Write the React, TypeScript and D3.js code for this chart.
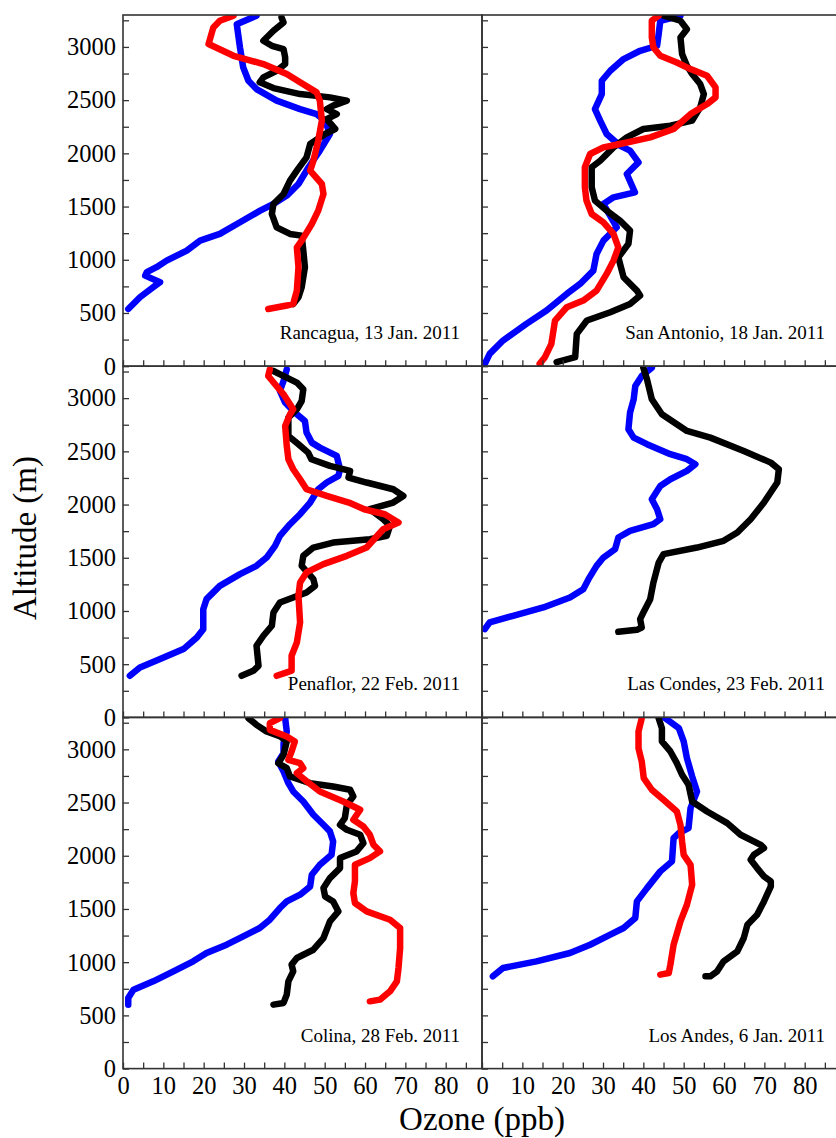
import { useEffect, useRef } from "react";
import * as d3 from "d3";

// [ozone (ppb), altitude (m)]
type Pt = [number, number];

const rancaguaBlue: Pt[] = [
  [33.1, 3293], [28.2, 3214], [29.0, 2995], [29.8, 2808], [31.1, 2682], [33.1, 2604], [38.1, 2495],
  [43.9, 2416], [48.0, 2369], [50.1, 2307], [51.3, 2182], [48.8, 2025], [46.0, 1869], [43.5, 1712],
  [40.6, 1603], [37.3, 1524], [34.0, 1462], [29.0, 1352], [24.0, 1243], [19.1, 1180], [15.8, 1086],
  [10.8, 992], [8.3, 930], [5.9, 883], [5.5, 851], [9.2, 789], [7.5, 742], [4.2, 648], [1.3, 538],
];
const rancaguaBlack: Pt[] = [
  [39.3, 3277], [39.8, 3230], [37.3, 3152], [34.8, 3058], [36.9, 3011], [39.8, 2980], [40.2, 2901],
  [40.2, 2839], [38.1, 2776], [34.8, 2714], [33.9, 2667], [37.3, 2613], [43.9, 2557], [51.3, 2526],
  [55.5, 2495], [52.1, 2448], [50.5, 2416], [53.0, 2369], [50.5, 2322], [52.6, 2229], [50.1, 2182],
  [46.4, 2088], [45.5, 1962], [43.1, 1837], [41.4, 1743], [39.8, 1618], [37.3, 1524], [36.9, 1430],
  [38.1, 1305], [41.4, 1243], [44.3, 1227], [44.7, 1086], [45.1, 930], [44.3, 742], [43.5, 648],
  [42.2, 585],
];
const rancaguaRed: Pt[] = [
  [27.4, 3293], [24.0, 3246], [22.4, 3183], [21.2, 3027], [27.4, 2917], [34.8, 2839], [40.6, 2745],
  [43.9, 2667], [48.0, 2573], [48.8, 2495], [49.3, 2307], [48.4, 2119], [47.2, 1931], [46.4, 1837],
  [49.3, 1712], [49.7, 1618], [48.4, 1462], [46.8, 1336], [44.3, 1180], [43.1, 1117], [43.5, 930],
  [43.1, 710], [42.2, 585], [40.6, 570], [36.0, 538],
];

const sanAntonioBlue: Pt[] = [
  [49.2, 3293], [44.2, 3246], [43.8, 3121], [43.4, 3011], [39.2, 2964], [35.1, 2886], [31.8, 2776],
  [29.7, 2682], [29.7, 2557], [28.0, 2416], [29.3, 2307], [30.9, 2182], [34.2, 2072], [36.7, 2025],
  [38.8, 1915], [35.9, 1806], [37.9, 1634], [32.6, 1587], [30.1, 1524], [33.4, 1305], [30.1, 1180],
  [28.4, 1055], [27.6, 898], [24.3, 773], [21.0, 679], [16.0, 523], [11.0, 398], [5.2, 241],
  [1.9, 116], [0.7, 22],
];
const sanAntonioBlack: Pt[] = [
  [45.0, 3293], [49.2, 3246], [50.8, 3167], [49.2, 3089], [49.6, 2933], [50.8, 2823], [52.1, 2745],
  [54.1, 2651], [55.0, 2557], [54.1, 2432], [52.1, 2307], [46.7, 2260], [40.0, 2229], [35.9, 2150],
  [32.6, 2056], [29.3, 1931], [27.2, 1869], [27.2, 1681], [28.0, 1556], [30.9, 1462], [34.2, 1368],
  [36.7, 1274], [36.3, 1149], [33.8, 1023], [35.1, 836], [38.4, 710], [39.2, 664], [36.7, 585],
  [31.8, 507], [26.0, 429], [23.5, 304], [23.1, 85], [18.5, 38],
];
const sanAntonioRed: Pt[] = [
  [43.8, 3293], [42.1, 3246], [42.1, 3089], [42.5, 2995], [44.2, 2917], [48.3, 2854], [51.7, 2792],
  [55.8, 2729], [57.9, 2620], [57.9, 2526], [55.8, 2463], [51.7, 2369], [47.5, 2229], [41.7, 2150],
  [34.2, 2088], [30.1, 2056], [26.8, 1994], [25.5, 1869], [25.5, 1681], [25.9, 1556], [27.2, 1430],
  [30.1, 1352], [32.6, 1243], [33.8, 1117], [32.6, 992], [30.9, 867], [28.4, 710], [25.1, 617],
  [21.0, 554], [18.1, 429], [17.2, 210], [15.6, 85], [14.3, 22],
];

const penaflorBlue: Pt[] = [
  [40.6, 3271], [39.8, 3161], [38.9, 3067], [40.2, 2958], [42.6, 2864], [45.1, 2786], [45.5, 2676],
  [46.8, 2582], [48.8, 2535], [53.0, 2457], [53.8, 2332], [53.4, 2269], [50.5, 2207], [48.4, 2144],
  [46.4, 2019], [43.9, 1909], [41.4, 1815], [38.9, 1706], [37.7, 1612], [35.6, 1502], [33.1, 1424],
  [29.0, 1346], [24.0, 1236], [20.7, 1111], [19.9, 1017], [19.9, 829], [18.3, 751], [15.0, 642],
  [9.2, 548], [4.2, 469], [1.7, 391],
];
const penaflorBlack: Pt[] = [
  [37.3, 3255], [40.6, 3192], [43.1, 3146], [44.7, 3083], [44.3, 2973], [43.1, 2895], [41.0, 2817],
  [41.0, 2645], [43.5, 2567], [45.9, 2488], [46.7, 2426], [51.3, 2363], [56.3, 2316], [55.9, 2254],
  [60.4, 2207], [67.0, 2144], [69.5, 2081], [67.0, 2019], [61.2, 1956], [64.5, 1862], [66.2, 1800],
  [65.4, 1706], [61.2, 1674], [52.1, 1643], [47.2, 1596], [44.7, 1518], [44.3, 1424], [47.2, 1299],
  [47.6, 1236], [45.5, 1174], [42.2, 1127], [38.9, 1080], [37.3, 986], [36.9, 861], [34.8, 767],
  [33.1, 673], [33.6, 485], [32.3, 438], [29.4, 391],
];
const penaflorRed: Pt[] = [
  [36.4, 3271], [36.0, 3208], [37.7, 3130], [39.8, 3036], [42.2, 2895], [41.4, 2848], [40.2, 2739],
  [40.6, 2551], [41.0, 2426], [42.2, 2332], [43.9, 2238], [45.5, 2144], [50.5, 2081], [56.0, 2019],
  [59.8, 1956], [64.9, 1909], [68.3, 1831], [64.5, 1768], [60.4, 1596], [55.5, 1518], [49.7, 1440],
  [45.5, 1362], [43.9, 1268], [43.5, 1142], [43.9, 892], [43.1, 704], [41.8, 579], [41.8, 438],
  [40.6, 423], [38.1, 391],
];

const lasCondesBlue: Pt[] = [
  [42.1, 3286], [39.6, 3208], [38.0, 3114], [37.6, 2989], [36.7, 2864], [36.3, 2707], [37.6, 2629],
  [40.9, 2567], [46.7, 2473], [50.8, 2426], [52.9, 2379], [50.8, 2316], [46.7, 2238], [44.2, 2175],
  [42.1, 2050], [43.4, 1956], [44.2, 1862], [42.5, 1815], [36.7, 1753], [33.8, 1690], [33.0, 1581],
  [30.1, 1502], [28.4, 1424], [26.4, 1299], [25.1, 1205], [21.8, 1127], [15.2, 1033], [7.7, 955],
  [1.9, 892], [0.7, 829],
];
const lasCondesBlack: Pt[] = [
  [40.0, 3286], [40.9, 3177], [42.1, 2989], [44.6, 2848], [48.3, 2754], [50.8, 2692], [56.6, 2629],
  [64.9, 2504], [71.6, 2394], [73.6, 2332], [73.2, 2207], [69.9, 2019], [66.6, 1862], [63.3, 1737],
  [59.9, 1659], [53.3, 1596], [45.0, 1534], [43.8, 1455], [42.5, 1268], [41.7, 1111], [40.0, 986],
  [39.2, 923], [39.6, 845], [38.4, 823], [33.8, 804],
];

const colinaBlue: Pt[] = [
  [40.2, 3293], [40.6, 3167], [39.8, 3058], [39.8, 2964], [38.5, 2886], [39.8, 2792], [41.0, 2682],
  [42.2, 2604], [44.7, 2510], [47.2, 2385], [49.7, 2291], [51.3, 2229], [52.1, 2135], [51.7, 2009],
  [48.8, 1915], [46.8, 1822], [46.4, 1712], [43.9, 1634], [40.6, 1571], [38.9, 1509], [36.4, 1399],
  [33.9, 1321], [29.8, 1243], [25.7, 1164], [20.7, 1086], [17.4, 1008], [12.5, 914], [7.5, 820],
  [2.6, 742], [1.3, 664], [1.3, 601],
];
const colinaBlack: Pt[] = [
  [31.1, 3293], [33.1, 3230], [35.6, 3167], [39.0, 3121], [40.6, 3074], [39.8, 2948], [38.5, 2870],
  [40.6, 2823], [41.4, 2745], [46.4, 2682], [52.1, 2651], [56.3, 2620], [57.1, 2557], [55.5, 2479],
  [55.0, 2354], [53.8, 2291], [55.5, 2244], [58.8, 2197], [59.6, 2119], [57.9, 2041], [53.8, 1978],
  [53.8, 1884], [51.3, 1790], [49.7, 1696], [50.1, 1618], [52.1, 1571], [53.4, 1477], [51.3, 1383],
  [49.7, 1227], [47.2, 1117], [43.1, 1039], [41.8, 977], [42.2, 914], [41.0, 820], [40.6, 695],
  [39.8, 617], [37.3, 601],
];
const colinaRed: Pt[] = [
  [38.9, 3293], [36.4, 3246], [36.4, 3183], [40.6, 3121], [42.6, 3074], [41.8, 2980], [41.0, 2901],
  [43.9, 2870], [44.7, 2823], [43.1, 2776], [45.6, 2698], [48.8, 2604], [54.6, 2510], [58.8, 2432],
  [57.1, 2338], [59.6, 2275], [61.2, 2197], [62.1, 2103], [63.7, 2041], [61.2, 1978], [57.5, 1915],
  [57.5, 1759], [57.1, 1649], [57.5, 1556], [60.4, 1477], [66.2, 1399], [68.7, 1321], [68.7, 1133],
  [68.3, 945], [67.9, 820], [66.2, 726], [63.7, 648], [61.2, 632],
];

const losAndesBlue: Pt[] = [
  [45.4, 3293], [48.8, 3199], [50.0, 3074], [50.8, 2917], [52.1, 2745], [53.3, 2604], [51.7, 2448],
  [51.2, 2260], [48.8, 2213], [47.5, 2166], [47.1, 1947], [44.2, 1853], [40.9, 1696], [38.4, 1571],
  [38.0, 1415], [35.1, 1321], [31.8, 1258], [26.8, 1164], [21.8, 1086], [13.5, 1008], [5.2, 945],
  [2.7, 867],
];
const losAndesBlack: Pt[] = [
  [43.8, 3293], [44.6, 3199], [44.6, 3074], [46.7, 2980], [48.3, 2870], [49.6, 2761], [51.2, 2667],
  [52.1, 2510], [55.8, 2416], [60.8, 2307], [64.1, 2197], [69.1, 2103], [69.9, 2072], [67.4, 2009],
  [66.6, 1962], [68.2, 1884], [69.9, 1806], [71.6, 1759], [71.6, 1712], [69.9, 1571], [68.2, 1446],
  [65.8, 1352], [64.9, 1227], [63.3, 1102], [59.9, 1008], [58.3, 914], [56.6, 867], [55.4, 867],
];
const losAndesRed: Pt[] = [
  [39.6, 3293], [38.8, 3167], [38.8, 3011], [39.6, 2886], [40.1, 2729], [42.1, 2620], [45.0, 2526],
  [48.3, 2416], [49.2, 2291], [49.6, 2135], [50.0, 2009], [51.7, 1915], [52.1, 1728], [50.8, 1540],
  [49.2, 1383], [47.5, 1164], [46.7, 977], [46.3, 898], [44.2, 883],
];

const panelTitles = [
  "Rancagua, 13 Jan. 2011",
  "San Antonio, 18 Jan. 2011",
  "Penaflor, 22 Feb. 2011",
  "Las Condes, 23 Feb. 2011",
  "Colina, 28 Feb. 2011",
  "Los Andes, 6 Jan. 2011",
];
// blue, black, red (null = not measured)
const panelSeries: (Pt[] | null)[][] = [
  [rancaguaBlue, rancaguaBlack, rancaguaRed],
  [sanAntonioBlue, sanAntonioBlack, sanAntonioRed],
  [penaflorBlue, penaflorBlack, penaflorRed],
  [lasCondesBlue, lasCondesBlack, null],
  [colinaBlue, colinaBlack, colinaRed],
  [losAndesBlue, losAndesBlack, losAndesRed],
];
const seriesColors = ["#0000ff", "#000000", "#ff0000"];

const ozoneTicks = d3.range(0, 90, 5);
const altTicks = d3.range(0, 3300, 250);

export default function App() {
  const svgRef = useRef<SVGSVGElement>(null);

  useEffect(() => {
    if (!svgRef.current) return;
    const width = 836;
    const height = 1138;
    const left = 123;
    const top = 15;
    const panelW = 359;
    const panelH = 351.2;
    const font = "'Liberation Serif', 'Times New Roman', serif";

    const svg = d3.select(svgRef.current);
    svg.selectAll("*").remove();
    svg.attr("width", width).attr("height", height).attr("viewBox", `0 0 ${width} ${height}`);

    panelSeries.forEach((series, i) => {
      const col = i % 2;
      const row = Math.floor(i / 2);
      const x0 = left + col * panelW;
      const y0 = top + row * panelH;

      const x = d3.scaleLinear().domain([0, 89]).range([x0, x0 + panelW]);
      const y = d3.scaleLinear().domain([0, 3300]).range([y0 + panelH, y0]);

      const clipId = `clip-${i}`;
      svg
        .append("clipPath")
        .attr("id", clipId)
        .append("rect")
        .attr("x", x0)
        .attr("y", y0)
        .attr("width", panelW)
        .attr("height", panelH);

      const line = d3
        .line<Pt>()
        .x((d) => x(d[0]))
        .y((d) => y(d[1]));

      const g = svg.append("g").attr("clip-path", `url(#${clipId})`);
      series.forEach((data, k) => {
        if (!data) return;
        g.append("path")
          .datum(data)
          .attr("d", line)
          .attr("fill", "none")
          .attr("stroke", seriesColors[k])
          .attr("stroke-width", 6.5)
          .attr("stroke-linecap", "round")
          .attr("stroke-linejoin", "round");
      });

      // X axis (ticks pointing up)
      const xAxis = svg
        .append("g")
        .attr("transform", `translate(0,${y0 + panelH})`)
        .call(
          d3
            .axisBottom(x)
            .tickValues(ozoneTicks)
            .tickSizeInner(-6)
            .tickSizeOuter(0)
            .tickPadding(8)
            .tickFormat((d) => (row === 2 && (d as number) % 10 === 0 ? String(d) : ""))
        );
      xAxis.select(".domain").remove();
      xAxis.selectAll("line").attr("stroke", "#333").attr("stroke-width", 1.3);
      xAxis.selectAll("text").style("font-family", font).style("font-size", "24.5px").attr("fill", "#000");

      // Y axis (ticks pointing right)
      const yAxis = svg
        .append("g")
        .attr("transform", `translate(${x0},0)`)
        .call(
          d3
            .axisLeft(y)
            .tickValues(altTicks)
            .tickSizeInner(-6)
            .tickSizeOuter(0)
            .tickPadding(7)
            .tickFormat((d) => (col === 0 && (d as number) % 500 === 0 ? String(d) : ""))
        );
      yAxis.select(".domain").remove();
      yAxis.selectAll("line").attr("stroke", "#333").attr("stroke-width", 1.3);
      yAxis.selectAll("text").style("font-family", font).style("font-size", "24.5px").attr("fill", "#000");

      // frame
      svg
        .append("rect")
        .attr("x", x0)
        .attr("y", y0)
        .attr("width", panelW)
        .attr("height", panelH)
        .attr("fill", "none")
        .attr("stroke", "#333")
        .attr("stroke-width", 1.6);

      svg
        .append("text")
        .attr("x", x0 + (col === 0 ? 337 : 343))
        .attr("y", y0 + panelH - 27)
        .attr("text-anchor", "end")
        .style("font-family", font)
        .style("font-size", "19px")
        .attr("fill", "#000")
        .text(panelTitles[i]);
    });

    svg
      .append("text")
      .attr("transform", `translate(36,538) rotate(-90)`)
      .attr("text-anchor", "middle")
      .style("font-family", font)
      .style("font-size", "33px")
      .attr("fill", "#000")
      .text("Altitude (m)");

    svg
      .append("text")
      .attr("x", 482)
      .attr("y", 1130)
      .attr("text-anchor", "middle")
      .style("font-family", font)
      .style("font-size", "33px")
      .attr("fill", "#000")
      .text("Ozone (ppb)");
  }, []);

  return (
    <svg
      ref={svgRef}
      style={{ position: "absolute", left: 0, top: 0, display: "block", background: "#fff" }}
    />
  );
}
